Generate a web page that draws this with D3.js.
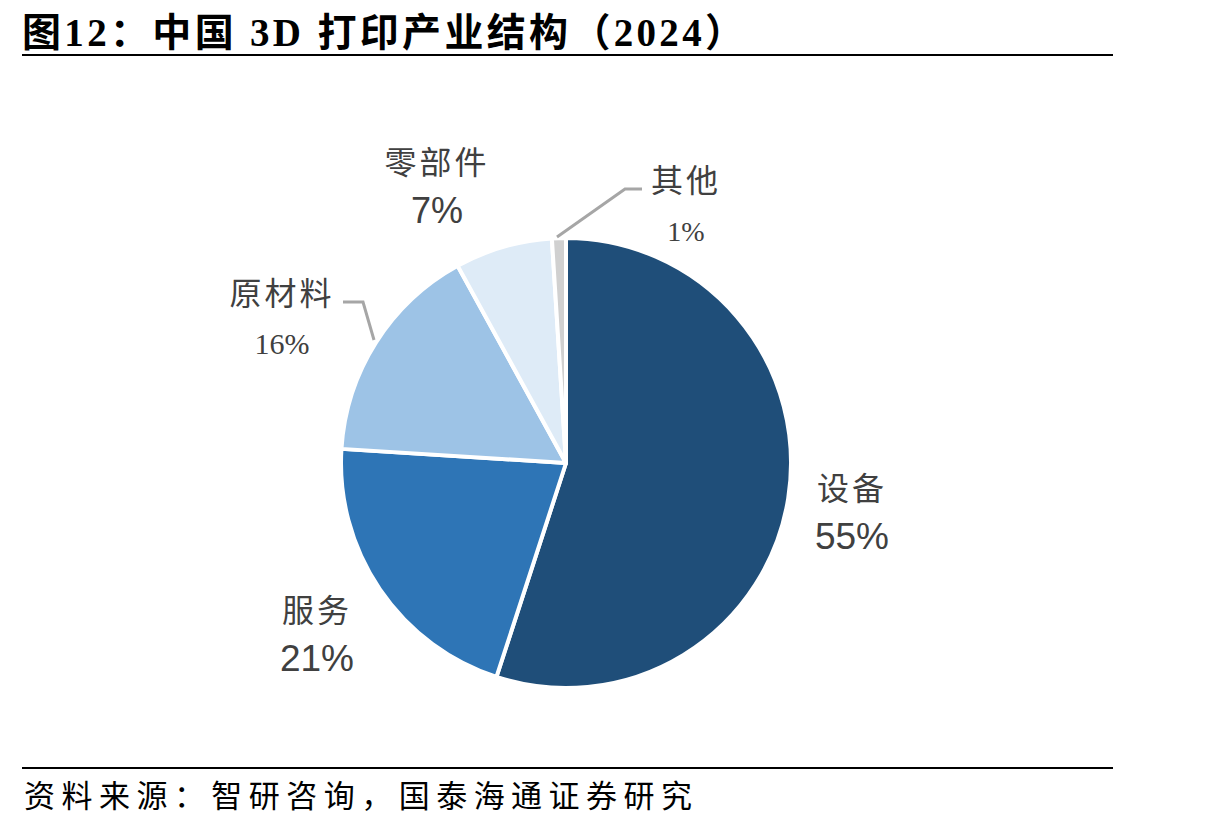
<!DOCTYPE html>
<html>
<head>
<meta charset="utf-8">
<script src="https://cdn.jsdelivr.net/npm/d3@7"></script>
<style>
  body { margin: 0; background: #fff; }
  svg text { fill: #404040; }
</style>
</head>
<body>
<svg id="chart" width="1230" height="827"></svg>
<script>
// data
var categories = ["设备", "服务", "原材料", "零部件", "其他"];
var shares = [55, 21, 16, 7, 1];
var colors = ["#1f4e79", "#2e75b6", "#9dc3e6", "#deebf7", "#d0d0d0"];

// label layout (label centre x, name baseline y, pct font)
var labelLayout = {
  "设备":   { x: 852, y: 500, serif: false, size: 37 },
  "服务":   { x: 317, y: 622, serif: false, size: 37 },
  "原材料": { x: 282, y: 305, serif: true,  size: 30 },
  "零部件": { x: 437, y: 174, serif: false, size: 36 },
  "其他":   { x: 686, y: 192, serif: true,  size: 28 }
};

var svg = d3.select("#chart");
var cjk = "'Noto Sans CJK SC', 'Noto Sans', sans-serif";

// title
svg.append("text")
  .attr("x", 22).attr("y", 46)
  .attr("textLength", 722)
  .attr("lengthAdjust", "spacing")
  .style("font-family", "'Liberation Serif', " + cjk)
  .style("font-weight", "bold")
  .style("font-size", "39px")
  .style("fill", "#000")
  .text("图12：中国 3D 打印产业结构（2024）");

svg.append("line")
  .attr("x1", 22).attr("x2", 1113).attr("y1", 55).attr("y2", 55)
  .attr("stroke", "#000").attr("stroke-width", 2);

svg.append("line")
  .attr("x1", 22).attr("x2", 1113).attr("y1", 768).attr("y2", 768)
  .attr("stroke", "#000").attr("stroke-width", 2);

svg.append("text")
  .attr("x", 24).attr("y", 807)
  .attr("textLength", 668)
  .attr("lengthAdjust", "spacing")
  .style("font-family", cjk)
  .style("font-size", "31px")
  .style("fill", "#000")
  .text("资料来源：智研咨询，国泰海通证券研究");

// pie
var cx = 566, cy = 463, r = 225;
var data = categories.map(function (c, i) { return { name: c, value: shares[i], color: colors[i] }; });

var pie = d3.pie().value(function (d) { return d.value; }).sort(null);
var arc = d3.arc().innerRadius(0).outerRadius(r);

var g = svg.append("g").attr("transform", "translate(" + cx + "," + cy + ")");
g.selectAll("path")
  .data(pie(data))
  .join("path")
  .attr("d", arc)
  .attr("fill", function (d) { return d.data.color; })
  .attr("stroke", "#fff")
  .attr("stroke-width", 4)
  .attr("stroke-linejoin", "round");

// leader lines
svg.append("polyline")
  .attr("points", "557,237 625,189 642,189")
  .attr("fill", "none").attr("stroke", "#a6a6a6").attr("stroke-width", 3);
svg.append("polyline")
  .attr("points", "343,302 363,302 374,340")
  .attr("fill", "none").attr("stroke", "#a6a6a6").attr("stroke-width", 3);

// labels
data.forEach(function (d) {
  var L = labelLayout[d.name];
  svg.append("text")
    .attr("x", L.x).attr("y", L.y)
    .attr("text-anchor", "middle")
    .style("font-family", cjk)
    .style("font-size", "32px")
    .style("letter-spacing", "3px")
    .text(d.name);
  svg.append("text")
    .attr("x", L.x).attr("y", L.y + 49)
    .attr("text-anchor", "middle")
    .style("font-family", L.serif ? "'Liberation Serif', serif" : "'Liberation Sans', Arial, sans-serif")
    .style("font-size", L.size + "px")
    .text(d.value + "%");
});
</script>
</body>
</html>
